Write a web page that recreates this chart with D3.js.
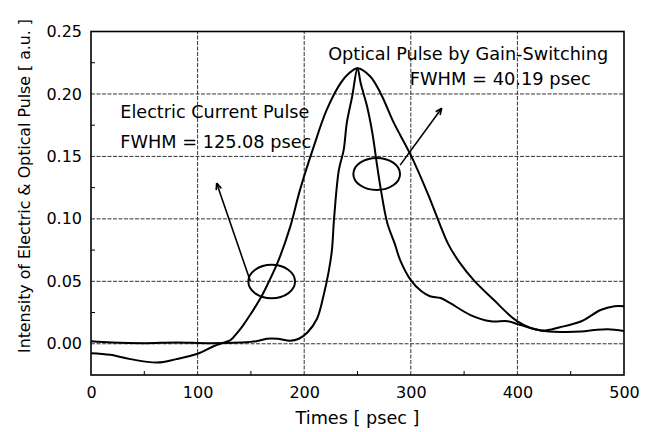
<!DOCTYPE html>
<html><head><meta charset="utf-8">
<script src="https://cdn.jsdelivr.net/npm/d3@7"></script>
<style>
html,body{margin:0;padding:0;background:#fff;}
svg{display:block;}
text{font-family:"DejaVu Sans",Verdana,sans-serif;fill:#000;}
</style></head>
<body>
<svg id="chart" width="654" height="432"></svg>
<script>
// ---- data ----
const electricT = [0,18,37,62,80,100,115,125,131,137,142,150,160,167,176,187,196,209,221,234,242,250,262,272,284,300,316,328,335,345,359,378,400,422,440,460,478,491,500];
const electricV = [-0.0075,-0.0088,-0.0123,-0.015,-0.0123,-0.008,-0.002,0.001,0.003,0.0086,0.014,0.024,0.038,0.05,0.067,0.094,0.123,0.158,0.187,0.2085,0.2165,0.2206,0.214,0.2,0.177,0.151,0.12,0.094,0.080,0.066,0.051,0.035,0.018,0.0107,0.0133,0.018,0.027,0.030,0.030];
const opticalT = [0,20,50,80,110,140,155,165,175,187,195,203,212,218,223,226,228,232.5,237,240,245,250,253,259,264,268.5,272,278,285,290,300,310,318,328,337,356,375,391,403,422,440,460,472,485,500];
const opticalV = [0.002,0.001,0.0005,0.001,0.0005,0.001,0.002,0.004,0.004,0.0024,0.004,0.009,0.020,0.038,0.058,0.075,0.10,0.139,0.155,0.177,0.198,0.2206,0.2085,0.19,0.1685,0.142,0.123,0.0965,0.080,0.067,0.051,0.042,0.038,0.0366,0.0325,0.023,0.018,0.018,0.015,0.0107,0.0095,0.0098,0.011,0.0117,0.0103];
const xTicks = [0,100,200,300,400,500];
const yTicks = [0.00,0.05,0.10,0.15,0.20,0.25];
const xMinor = [50,150,250,350,450];
const yMinor = [0.025,0.075,0.125,0.175,0.225];
const xTitle = "Times [ psec ]";
const yTitle = "Intensity of Electric & Optical Pulse [ a.u. ]";
// annotation texts (data coords)
const labelTexts = ["Optical Pulse by Gain-Switching","FWHM = 40.19 psec","Electric Current Pulse","FWHM = 125.08 psec"];
const labelT = [222.5, 299, 27.5, 27.5];
const labelV = [0.2275, 0.2075, 0.1805, 0.157];
const labelLen = [280, 181, 189, 191];
// ellipses (center t, v, radius t, radius v)
const ellT = [169.5, 268];
const ellV = [0.0498, 0.136];
const ellRT = [21.9, 21.9];
const ellRV = [0.0134, 0.0128];
// arrows: from (t,v) to tip (t,v)
const arrFromT = [149.5, 290];
const arrFromV = [0.050, 0.143];
const arrToT = [117.9, 329];
const arrToV = [0.1286, 0.1886];

// ---- layout ----
const W = 654, H = 432;
const m = {left:91, right:30, top:31.5, bottom:57};
const svg = d3.select("#chart");
const x = d3.scaleLinear().domain([0,500]).range([m.left, W-m.right]);
const y = d3.scaleLinear().domain([-0.025,0.25]).range([H-m.bottom, m.top]);

// grid
const g = svg.append("g");
g.selectAll(".vg").data(xTicks.slice(1,-1)).enter().append("line")
  .attr("x1",d=>x(d)).attr("x2",d=>x(d)).attr("y1",y(-0.025)).attr("y2",y(0.25))
  .attr("stroke","#333").attr("stroke-width",1).attr("stroke-dasharray","4,1.5");
g.selectAll(".hg").data(yTicks.slice(0,-1)).enter().append("line")
  .attr("x1",x(0)).attr("x2",x(500)).attr("y1",d=>y(d)).attr("y2",d=>y(d))
  .attr("stroke","#333").attr("stroke-width",1).attr("stroke-dasharray","4,1.5");

// axes
const xAxis = d3.axisBottom(x).tickValues(xTicks).tickSize(0).tickPadding(12).tickFormat(d3.format("d"));
const yAxis = d3.axisLeft(y).tickValues(yTicks).tickSize(0).tickPadding(9).tickFormat(d3.format(".2f"));
const gx = svg.append("g").attr("transform",`translate(0,${y(-0.025)})`).call(xAxis);
const gy = svg.append("g").attr("transform",`translate(${x(0)},0)`).call(yAxis);
[gx,gy].forEach(a=>{a.select(".domain").remove(); a.selectAll("text").style("font-size","16px").style("font-family","'DejaVu Sans',Verdana,sans-serif");});
gx.selectAll("text").attr("dy","0.71em");

// minor ticks inward
svg.selectAll(".xm").data(xMinor).enter().append("line")
  .attr("x1",d=>x(d)).attr("x2",d=>x(d)).attr("y1",y(-0.025)).attr("y2",y(-0.025)-4)
  .attr("stroke","#000").attr("stroke-width",1);
svg.selectAll(".ym").data(yMinor).enter().append("line")
  .attr("x1",x(0)).attr("x2",x(0)+4).attr("y1",d=>y(d)).attr("y2",d=>y(d))
  .attr("stroke","#000").attr("stroke-width",1);

// frame
svg.append("rect").attr("x",x(0)).attr("y",y(0.25)).attr("width",x(500)-x(0)).attr("height",y(-0.025)-y(0.25))
  .attr("fill","none").attr("stroke","#000").attr("stroke-width",1.6);

// curves
const line = d3.line().x(d=>x(d[0])).y(d=>y(d[1])).curve(d3.curveCatmullRom.alpha(0.5));
svg.append("path").datum(electricT.map((t,i)=>[t,electricV[i]]))
  .attr("d",line).attr("fill","none").attr("stroke","#000").attr("stroke-width",2);
svg.append("path").datum(opticalT.map((t,i)=>[t,opticalV[i]]))
  .attr("d",line).attr("fill","none").attr("stroke","#000").attr("stroke-width",2);

// ellipses
ellT.forEach((t,i)=>{
  svg.append("ellipse").attr("cx",x(t)).attr("cy",y(ellV[i]))
    .attr("rx",x(t+ellRT[i])-x(t)).attr("ry",y(0)-y(ellRV[i]))
    .attr("fill","none").attr("stroke","#000").attr("stroke-width",2);
});
// arrows
arrFromT.forEach((t,i)=>{
  const x1=x(t), y1=y(arrFromV[i]), x2=x(arrToT[i]), y2=y(arrToV[i]);
  svg.append("line").attr("x1",x1).attr("y1",y1).attr("x2",x2).attr("y2",y2)
    .attr("stroke","#000").attr("stroke-width",1.6);
  const ang=Math.atan2(y2-y1,x2-x1), L=7, A=0.4;
  svg.append("path").attr("d",`M${x2},${y2}L${x2-L*Math.cos(ang-A)},${y2-L*Math.sin(ang-A)}M${x2},${y2}L${x2-L*Math.cos(ang+A)},${y2-L*Math.sin(ang+A)}`)
    .attr("stroke","#000").attr("stroke-width",1.6).attr("fill","none");
});

// annotation labels
labelTexts.forEach((s,i)=>{
  svg.append("text").attr("x",x(labelT[i])).attr("y",y(labelV[i]))
    .attr("textLength",labelLen[i]).attr("lengthAdjust","spacingAndGlyphs")
    .style("font-size","17px").text(s);
});

// axis titles
svg.append("text").attr("x",x(250)).attr("y",424).attr("text-anchor","middle")
  .attr("textLength",124).attr("lengthAdjust","spacingAndGlyphs")
  .style("font-size","17px").text(xTitle);
svg.append("text").attr("transform",`translate(30,${186}) rotate(-90)`).attr("text-anchor","middle")
  .attr("textLength",334).attr("lengthAdjust","spacingAndGlyphs")
  .style("font-size","16px").style("font-stretch","condensed").text(yTitle);
</script>
</body></html>
